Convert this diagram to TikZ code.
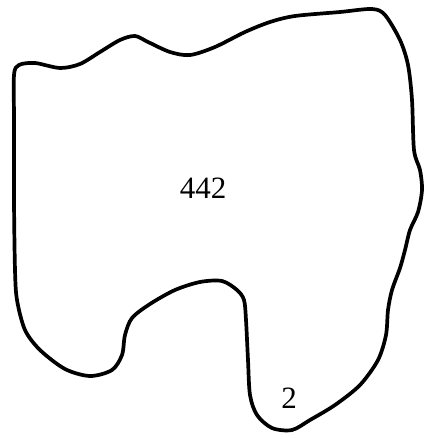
\documentclass[tikz,border=0pt]{standalone}
\usepackage{fontspec}
\setmainfont{Liberation Serif}
\tikzset{outline/.style={line width=3.7pt,line join=round},lbl/.style={font=\fontsize{31}{34}\selectfont,inner sep=0pt}}
\begin{document}
\begin{tikzpicture}[x=1pt,y=-1pt]
\useasboundingbox (0,0) rectangle (427,439);
\draw[outline] plot[smooth cycle,tension=0.5] coordinates {
(14,75) (19,65) (35,63) (60,68) (80,64) (100,52) (120,40) (135,36) (148,42) (170,52) (190,55) (215,47) (245,32) (270,22) (295,16) (340,12) (372,9) (385,15) (400,40) (408,65) (412,100) (414,150) (420,170) (422,190) (418,212) (410,230) (405,250) (400,268) (392,290) (388,310) (386,335) (378,360) (360,385) (335,405) (310,420) (292,430) (272,428) (257,415) (250,395) (248,360) (246,320) (244,300) (237,290) (222,281) (200,282) (175,290) (150,304) (132,318) (125,335) (122,355) (112,370) (90,376) (65,369) (40,350) (25,330) (17,300) (15,270) (14,200) (14,120)};
\node[lbl] (a) at (203,188) {442};
\node[lbl] (b) at (289,398) {2};
\end{tikzpicture}
\end{document}
